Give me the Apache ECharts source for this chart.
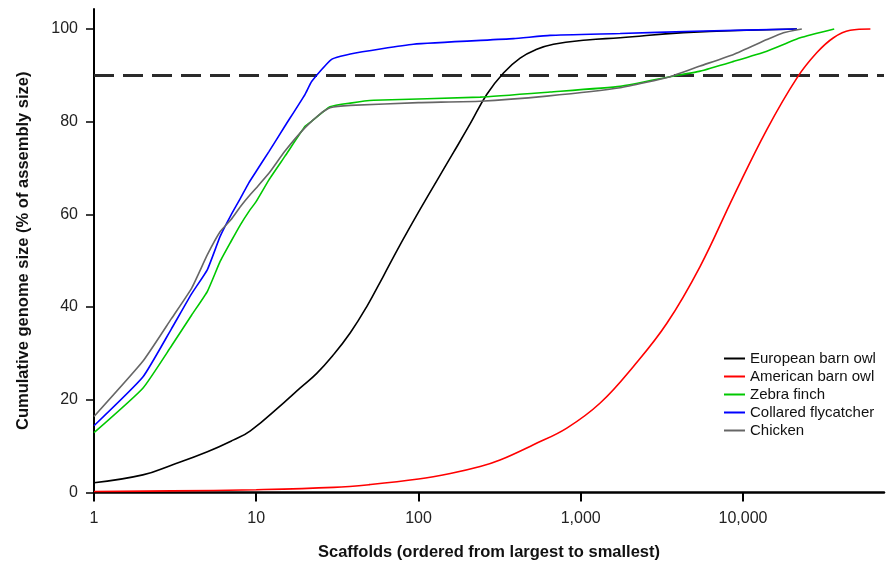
<!DOCTYPE html>
<html>
<head>
<meta charset="utf-8">
<script src="https://cdn.jsdelivr.net/npm/echarts@6/dist/echarts.min.js"></script>
<style>html,body{margin:0;padding:0;background:#fff}#c{width:889px;height:564px}</style>
</head>
<body>
<div id="c"></div>
<script>
// Series names
const seriesNames = ['European barn owl', 'American barn owl', 'Zebra finch', 'Collared flycatcher', 'Chicken'];
// X tick values (log axis) and Y tick values
const xTicks = [1, 10, 100, 1000, 10000];
const yTicks = [0, 20, 40, 60, 80, 100];
const threshold = 90;

// [scaffold index, cumulative %]
const europeanX = [1, 2, 3, 5, 7.2, 9.2, 14.7, 18.6, 23.6, 29.9, 37.9, 48, 60.8, 77, 100.8, 164, 208, 264, 334, 423, 536, 679, 1091, 1750, 4300, 21500];
const europeanY = [2.1, 3.8, 5.9, 8.8, 11.3, 13.3, 19.3, 22.5, 25.7, 29.7, 34.4, 40.1, 46.7, 53.4, 60.7, 73.3, 79.5, 85.9, 90.5, 93.7, 95.6, 96.7, 97.6, 98.1, 99.2, 100];

const americanX = [1, 3, 10, 30, 50, 100, 157, 240, 318, 511, 821, 1318, 2113, 3396, 5448, 8750, 14030, 21480, 28560, 36140, 45800, 61000];
const americanY = [0.2, 0.35, 0.6, 1.1, 1.7, 2.9, 4.1, 5.6, 7.0, 10.3, 13.9, 19.3, 27.2, 36.5, 48.8, 63.9, 78.3, 89.4, 94.9, 98.1, 99.7, 100];

const zebraX = [1, 2, 3, 4, 5, 6, 7, 8, 9, 10, 12, 15, 20, 22, 28.5, 38, 53, 240, 647, 1750, 3557, 5448, 8750, 14030, 22530, 36500];
const zebraY = [12.9, 22.5, 31.6, 38.3, 43.4, 49.9, 54.2, 57.8, 60.6, 62.8, 67.5, 72.5, 79.0, 80.1, 83.2, 84.0, 84.6, 85.3, 86.4, 87.6, 89.7, 90.9, 93.0, 95.2, 98.1, 100];

const flycatcherX = [1, 2, 3, 4, 5, 6, 7, 8, 9, 10, 12, 15, 20, 22, 29, 38, 93, 385, 647, 1750, 5000, 21500];
const flycatcherY = [14.4, 24.9, 35.3, 42.9, 48.1, 55.3, 59.9, 63.5, 66.8, 69.3, 73.6, 79.0, 85.9, 88.7, 93.4, 94.6, 96.7, 97.9, 98.6, 99.0, 99.5, 100];

const chickenX = [1, 2, 3, 4, 5, 6, 7, 8, 9, 10, 12, 15, 20, 25, 28.5, 38, 100, 240, 617, 1750, 3557, 5448, 8750, 14030, 17780, 23050];
const chickenY = [16.4, 28.3, 37.5, 44.1, 51.3, 56.3, 58.9, 61.7, 63.9, 65.7, 68.9, 73.6, 78.7, 81.8, 83.0, 83.5, 84.1, 84.4, 85.5, 87.3, 89.7, 92.0, 94.5, 97.7, 99.2, 100];

const xs = [europeanX, americanX, zebraX, flycatcherX, chickenX];
const ys = [europeanY, americanY, zebraY, flycatcherY, chickenY];
const colors = ['#000000', '#ff0000', '#00c800', '#0000ff', '#666666'];
const smoothness = [0.45, 0.4, 0.15, 0.15, 0.15];

const chart = echarts.init(document.getElementById('c'), null, {renderer: 'canvas'});
const font = '"Liberation Sans", Arial, sans-serif';

const series = seriesNames.map((name, i) => ({
  name: name,
  type: 'line',
  data: xs[i].map((x, j) => [x, ys[i][j]]),
  showSymbol: false,
  smooth: smoothness[i],
  lineStyle: {color: colors[i], width: 1.6},
  itemStyle: {color: colors[i]},
  z: 3
}));
series[0].markLine = {
  silent: true,
  symbol: 'none',
  label: {show: false},
  lineStyle: {color: '#2a2a2a', width: 3, type: [20, 9]},
  data: [{yAxis: threshold}],
  z: 2
};

chart.setOption({
  animation: false,
  backgroundColor: '#fff',
  grid: {left: 94, right: 5, top: 9, bottom: 71.5, outerBoundsMode: 'none', containLabel: false},
  legend: {
    orient: 'vertical',
    left: 724,
    top: 351,
    padding: 0,
    icon: 'rect',
    itemWidth: 21,
    itemHeight: 2,
    itemGap: 3,
    textStyle: {fontFamily: font, fontSize: 15, color: '#111', lineHeight: 15},
    data: seriesNames
  },
  xAxis: {
    type: 'log',
    logBase: 10,
    min: 1,
    max: 74000,
    name: 'Scaffolds (ordered from largest to smallest)',
    nameLocation: 'middle',
    nameGap: 51,
    nameTextStyle: {fontFamily: font, fontSize: 16.5, fontWeight: 'bold', color: '#111'},
    axisLine: {lineStyle: {color: '#000', width: 2.5}},
    axisTick: {show: true, inside: false, length: 9, lineStyle: {color: '#000', width: 2}, customValues: xTicks},
    axisLabel: {fontFamily: font, fontSize: 16, color: '#222', margin: 18, customValues: xTicks,
      formatter: v => Math.round(v).toLocaleString('en-US')},
    splitLine: {show: false},
    minorTick: {show: false}
  },
  yAxis: {
    type: 'value',
    min: 0,
    max: 104.3,
    name: 'Cumulative genome size (% of assembly size)',
    nameLocation: 'middle',
    nameGap: 62,
    nameTextStyle: {fontFamily: font, fontSize: 16.5, fontWeight: 'bold', color: '#111'},
    axisLine: {show: true, lineStyle: {color: '#000', width: 2}},
    axisTick: {show: true, inside: false, length: 8, lineStyle: {color: '#000', width: 1.5}, customValues: yTicks},
    axisLabel: {fontFamily: font, fontSize: 16, color: '#222', margin: 16, customValues: yTicks},
    splitLine: {show: false}
  },
  series: series
});
</script>
</body>
</html>
